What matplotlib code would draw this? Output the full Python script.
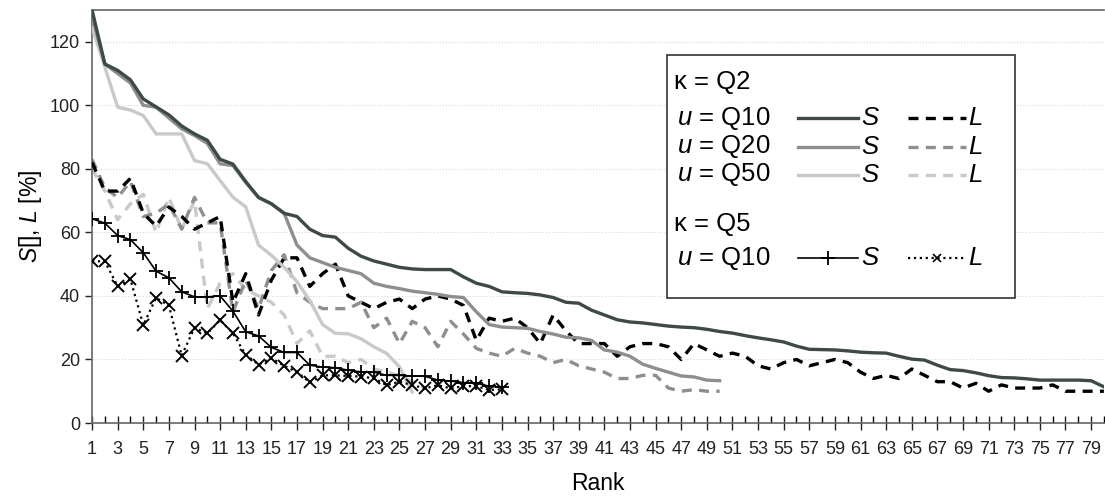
import numpy as np
import matplotlib.pyplot as plt
from matplotlib.lines import Line2D
from matplotlib.patches import Rectangle

plt.rcParams['font.family'] = ['Liberation Sans', 'DejaVu Sans']
plt.rcParams['mathtext.fontset'] = 'custom'
plt.rcParams['mathtext.rm'] = 'Liberation Sans'
plt.rcParams['mathtext.it'] = 'Liberation Sans:italic'

# kappa = Q2, u = Q10 / Q20 / Q50 ; kappa = Q5, u = Q10
s_q2_u10 = [130, 113, 111, 108, 102, 99.5, 97, 93.5, 91, 89, 83, 81.5, 76, 71, 69, 66, 65, 61, 59, 58.5,
            55, 52.5, 51, 50, 49, 48.5, 48.3, 48.3, 48.3, 46, 44, 43, 41.3, 41, 40.8, 40.3, 39.5, 38, 37.7, 35.5,
            34, 32.5, 31.8, 31.5, 31, 30.5, 30.2, 30, 29.5, 28.8, 28.3, 27.5, 26.8, 26.2, 25.5, 24.2, 23.2, 23.1, 23, 22.7,
            22.3, 22.1, 22, 21, 20.1, 19.8, 18.2, 16.8, 16.5, 15.8, 14.9, 14.3, 14.2, 13.9, 13.5, 13.5, 13.5, 13.5, 13.3, 11.4]
l_q2_u10 = [82, 73, 73, 77, 66, 62, 68, 65, 61, 63, 65, 38, 47, 34, 45, 52, 52, 43, 47, 50,
            40, 38, 36, 38, 39, 36, 39, 40, 39, 37, 26, 33, 32, 33, 30, 25, 34, 29, 25, 25,
            25, 21, 24, 25, 25, 24, 20, 25, 23, 21, 22, 21, 18, 17, 19, 20, 18, 19, 20, 19,
            16, 14, 15, 14, 17, 15, 13, 13, 11, 12.5, 10, 12, 11, 11, 11, 12, 10, 10, 10, 10]
s_q2_u20 = [128, 113, 110, 107, 100, 99.4, 96, 92.6, 90.5, 88, 81.6, 81, 75.7, 71, 69, 66, 56, 52, 50.5, 49,
            48, 47, 44, 43, 42.3, 41.5, 41, 40.5, 39.8, 39.5, 35, 31, 30.2, 30, 29.8, 28.8, 28, 27, 26.8, 26,
            23, 22.3, 21, 18.5, 17.2, 16, 14.8, 14.5, 13.5, 13.3]
l_q2_u20 = [83, 74, 71, 76, 65, 66, 69, 61, 71, 63, 63, 35, 45, 36, 48, 53, 41, 38, 36, 36,
            36, 38, 30, 33, 25, 32, 30, 24, 32, 28, 23.5, 22, 21, 23.5, 22, 21, 19, 20, 18, 17,
            16, 14, 14, 15, 15, 11, 10, 10.5, 10, 10]
s_q2_u50 = [124.5, 112, 99.4, 98.5, 96.8, 91, 91, 91, 82.6, 81.6, 76.3, 71.1, 68, 56, 52.8, 49, 44.5, 38.6, 31, 28.2,
            28.1, 26.5, 24, 21.9, 17.7, 9.8]
l_q2_u50 = [80, 73, 64, 69, 72, 60, 71, 61, 70, 36, 44, 47, 42, 40, 38, 34, 25, 29, 21, 21,
            19, 20, 17, 16, 15, 13, 11]
s_q5_u10 = [64.3, 62.9, 59, 57.7, 53.6, 47.8, 45.7, 41.3, 39.7, 39.7, 40, 35.2, 28.7, 27.4, 23.8, 22.2, 22.2, 18.2, 17.6, 17.4,
            16.6, 16.1, 16, 15, 15, 14.8, 14.7, 13.5, 13.2, 12.7, 12.5, 11.6, 11.2]
l_q5_u10 = [50.9, 50.9, 43, 45.2, 30.8, 39.4, 37, 21.2, 30, 28.2, 32.4, 28.2, 21.4, 18.4, 20.4, 18, 16, 12.8, 15, 15,
            14.8, 14.6, 14.1, 11.9, 13, 11.9, 10.9, 11.9, 10.9, 11.6, 11.6, 10.4, 10.6]

dark = '#3d4a48'
mid = '#8e8e8e'
light = '#c9c9c9'

def ranks(vals):
    return np.arange(1, len(vals) + 1)

fig = plt.figure(figsize=(11.05, 5.0), dpi=100)
ax = fig.add_axes([0.0833, 0.154, 0.9157, 0.826])

dash = (3, 2.2)
ax.plot(ranks(l_q2_u50), l_q2_u50, color=light, lw=2.4, dashes=dash, zorder=2)
ax.plot(ranks(l_q2_u20), l_q2_u20, color=mid, lw=2.4, dashes=dash, zorder=2)
ax.plot(ranks(l_q2_u10), l_q2_u10, color='black', lw=2.4, dashes=dash, zorder=3)
ax.plot(ranks(s_q2_u50), s_q2_u50, color=light, lw=2.4, zorder=3)
ax.plot(ranks(s_q2_u20), s_q2_u20, color=mid, lw=2.4, zorder=3)
ax.plot(ranks(s_q2_u10), s_q2_u10, color=dark, lw=2.4, zorder=4)
ax.plot(ranks(s_q5_u10), s_q5_u10, color='black', lw=1.2, marker='+', ms=10, mew=1.3, zorder=5)
ax.plot(ranks(l_q5_u10), l_q5_u10, color='black', lw=1.6, ls=':', marker='x', ms=9, mew=1.4, zorder=5)

ax.set_xlim(1, 80)
ax.set_ylim(0, 130)
ax.set_yticks(np.arange(0, 121, 20))
ax.set_xticks(np.arange(1, 80, 2))
ax.set_xticks(np.arange(2, 81, 2), minor=True)
ax.tick_params(axis='x', which='major', direction='inout', length=10, width=1, labelsize=13, pad=8, colors='#222222')
ax.tick_params(axis='x', which='minor', direction='in', length=5, width=1)
ax.tick_params(axis='y', direction='out', length=5, width=1, labelsize=13, colors='#222222')
ax.grid(axis='y', color='#d8d8d8', ls=':', lw=0.8)
ax.set_axisbelow(True)
for sp in ax.spines.values():
    sp.set_color('#666666')
    sp.set_linewidth(1.2)
ax.spines['right'].set_visible(False)

ax.set_xlabel('Rank', fontsize=16.5, labelpad=10)
ax.set_ylabel(r'$\it{S}$[], $\it{L}$ [%]', fontsize=16.5, labelpad=4)

# legend box drawn by hand (figure pixels -> fraction)
W, H = 1105.0, 500.0
def fx(px):
    return px / W
def fy(py):
    return 1 - py / H

fig.add_artist(Rectangle((fx(667), fy(298)), fx(1015) - fx(667), fy(55) - fy(298),
                         transform=fig.transFigure, facecolor='white', edgecolor='#333333', lw=1.2, zorder=10))
fs = 18.5
fig.text(fx(674), fy(82), '\u03ba = Q2', fontsize=fs, va='center', zorder=11)
fig.text(fx(674), fy(224), '\u03ba = Q5', fontsize=fs, va='center', zorder=11)
rows = [(118, 'Q10', dark, 'black'), (147, 'Q20', mid, mid), (175, 'Q50', light, light)]
for py, q, cs, cl in rows:
    fig.text(fx(677), fy(py), r'$\it{u}$ = ' + q, fontsize=fs, va='center', zorder=11)
    fig.add_artist(Line2D([fx(798), fx(858)], [fy(py), fy(py)], color=cs, lw=2.4, transform=fig.transFigure, zorder=11))
    fig.text(fx(861), fy(py), r'$\it{S}$', fontsize=fs, va='center', zorder=11)
    fig.add_artist(Line2D([fx(908), fx(966)], [fy(py), fy(py)], color=cl, lw=2.4, dashes=dash,
                          transform=fig.transFigure, zorder=11))
    fig.text(fx(968), fy(py), r'$\it{L}$', fontsize=fs, va='center', zorder=11)
py = 258
fig.text(fx(677), fy(py), r'$\it{u}$ = Q10', fontsize=fs, va='center', zorder=11)
fig.add_artist(Line2D([fx(798), fx(828), fx(858)], [fy(py)] * 3, color='black', lw=1.2, marker='+', ms=10, mew=1.3,
                      markevery=[1], transform=fig.transFigure, zorder=11))
fig.text(fx(861), fy(py), r'$\it{S}$', fontsize=fs, va='center', zorder=11)
fig.add_artist(Line2D([fx(908), fx(937), fx(966)], [fy(py)] * 3, color='black', lw=1.6, ls=':', marker='x', ms=6,
                      mew=1.2, markevery=[1], transform=fig.transFigure, zorder=11))
fig.text(fx(968), fy(py), r'$\it{L}$', fontsize=fs, va='center', zorder=11)

fig.savefig('out.png', dpi=100)
